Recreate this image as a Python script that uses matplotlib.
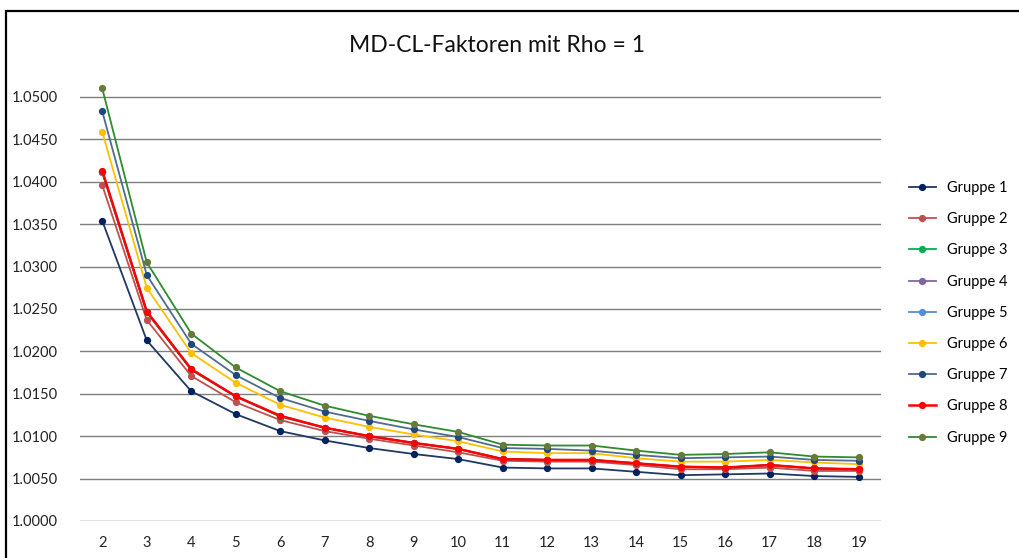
import matplotlib
matplotlib.use("Agg")
import matplotlib.pyplot as plt
from matplotlib.patches import Rectangle

plt.rcParams['font.family'] = ['Lato', 'DejaVu Sans']

# data
periods = [2, 3, 4, 5, 6, 7, 8, 9, 10, 11, 12, 13, 14, 15, 16, 17, 18, 19]

gruppe1 = [1.0354, 1.0213, 1.0153, 1.0126, 1.0106, 1.0095, 1.0086, 1.0079, 1.0073, 1.0063,
           1.0062, 1.0062, 1.0058, 1.0054, 1.0055, 1.0056, 1.0053, 1.0052]
gruppe2 = [1.0396, 1.0237, 1.0171, 1.0140, 1.0119, 1.0106, 1.0097, 1.0089, 1.0081, 1.0071,
           1.0070, 1.0070, 1.0066, 1.0061, 1.0061, 1.0063, 1.0059, 1.0059]
gruppe3 = [1.0411, 1.0246, 1.0178, 1.0147, 1.0123, 1.0110, 1.0100, 1.0092, 1.0085, 1.0073,
           1.0072, 1.0072, 1.0068, 1.0064, 1.0063, 1.0066, 1.0062, 1.0061]
gruppe4 = [1.0412, 1.0247, 1.0179, 1.0147, 1.0124, 1.0110, 1.0100, 1.0092, 1.0085, 1.0073,
           1.0072, 1.0072, 1.0068, 1.0064, 1.0063, 1.0066, 1.0062, 1.0061]
gruppe5 = [1.0412, 1.0247, 1.0179, 1.0147, 1.0124, 1.0110, 1.0100, 1.0092, 1.0085, 1.0073,
           1.0072, 1.0072, 1.0068, 1.0064, 1.0063, 1.0066, 1.0062, 1.0061]
gruppe6 = [1.0459, 1.0275, 1.0198, 1.0163, 1.0137, 1.0122, 1.0111, 1.0102, 1.0094, 1.0082,
           1.0080, 1.0080, 1.0074, 1.0070, 1.0070, 1.0072, 1.0069, 1.0067]
gruppe7 = [1.0483, 1.0290, 1.0209, 1.0172, 1.0145, 1.0129, 1.0118, 1.0108, 1.0099, 1.0086,
           1.0085, 1.0083, 1.0078, 1.0074, 1.0075, 1.0076, 1.0072, 1.0071]
gruppe8 = [1.0413, 1.0247, 1.0179, 1.0147, 1.0124, 1.0110, 1.0100, 1.0092, 1.0085, 1.0073,
           1.0072, 1.0072, 1.0068, 1.0064, 1.0063, 1.0066, 1.0062, 1.0061]
gruppe9 = [1.0510, 1.0305, 1.0221, 1.0181, 1.0153, 1.0136, 1.0124, 1.0114, 1.0105, 1.0090,
           1.0089, 1.0089, 1.0083, 1.0078, 1.0079, 1.0081, 1.0076, 1.0075]

series = [gruppe1, gruppe2, gruppe3, gruppe4, gruppe5, gruppe6, gruppe7, gruppe8, gruppe9]
labels = ["Gruppe %d" % (i + 1) for i in range(9)]
y_ticks = [1.0000, 1.0050, 1.0100, 1.0150, 1.0200, 1.0250, 1.0300, 1.0350, 1.0400, 1.0450, 1.0500]

# line colour, marker colour, line width
styles = [
    ("#1F3864", "#002060", 1.3),
    ("#C0504D", "#C0504D", 1.3),
    ("#00B050", "#00B050", 1.3),
    ("#8064A2", "#8064A2", 1.3),
    ("#558ED5", "#558ED5", 1.3),
    ("#FFC000", "#FFC000", 1.3),
    ("#4F6B8F", "#1F497D", 1.3),
    ("#FF0000", "#FF0000", 1.8),
    ("#2E8B2E", "#667A3A", 1.3),
]

fig = plt.figure(figsize=(10.2, 5.58), dpi=100)
ax = fig.add_axes([80 / 1020, 37 / 558, 801 / 1020, (558 - 37 - 80) / 558])

xpos = list(range(len(periods)))
for vals, lab, (lc, mc, lw) in zip(series, labels, styles):
    ax.plot(xpos, vals, color=lc, lw=lw, marker="o", markersize=4.2,
            markerfacecolor=mc, markeredgecolor=mc, label=lab)

ax.set_xlim(-0.5, len(periods) - 0.5)
ax.set_ylim(1.0, 1.052)
ax.set_xticks(xpos)
ax.set_xticklabels([str(p) for p in periods])
ax.set_yticks(y_ticks)
ax.set_yticklabels(["%.4f" % v for v in y_ticks])
ax.tick_params(axis="both", length=0, labelsize=10.5, colors="#222222")
ax.tick_params(axis="x", pad=11)
ax.tick_params(axis="y", pad=16)

for v in y_ticks[1:]:
    ax.axhline(v, color="#7F7F7F", lw=1.0, zorder=0)
ax.axhline(1.0, color="#D9D9D9", lw=1.2, zorder=0)
for s in ax.spines.values():
    s.set_visible(False)

fig.text(0.487, 0.918, "MD-CL-Faktoren mit Rho = 1", ha="center", va="center",
         fontsize=16.5, color="#111111")

leg = ax.legend(loc="upper left", bbox_to_anchor=(909 / 1020, 1 - 181 / 558),
                bbox_transform=fig.transFigure, frameon=False, fontsize=10.5,
                labelspacing=1.18, handlelength=1.85, handletextpad=0.75,
                borderaxespad=0, borderpad=0)

fig.patches.append(Rectangle((6 / 1020, -0.05), 1.1, 1 - 11 / 558 + 0.05,
                             transform=fig.transFigure, fill=False,
                             edgecolor="#000000", lw=1.6))

fig.savefig("out.png", dpi=100)
